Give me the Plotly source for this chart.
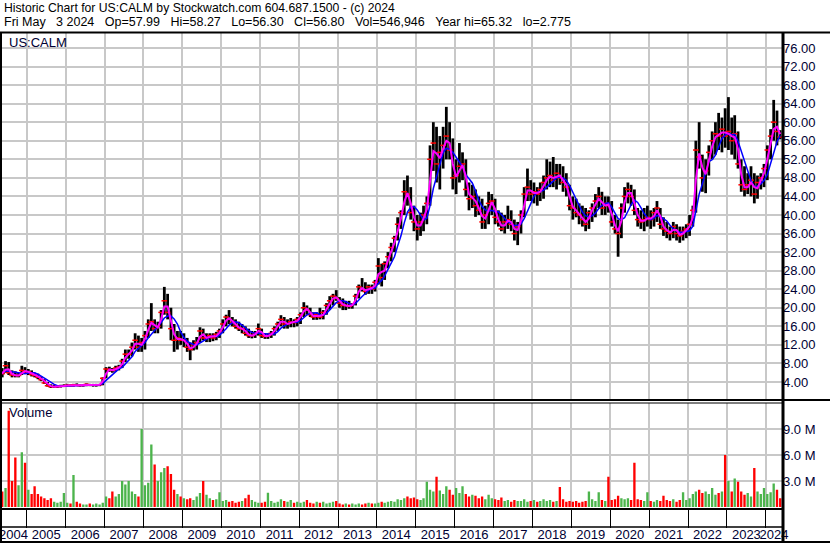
import pandas as pd
import plotly.graph_objects as go

# ---------------- data (monthly) ----------------
first_month = "2004-04-01"

high = [
    7.5, 7.0, 8.5, 8.3, 6.5, 6.3, 6.0, 7.5, 7.2,                        # 2004 Apr-Dec
    6.8, 6.5, 6.0, 5.8, 5.2, 4.6, 4.0, 3.5, 3.4, 3.3, 3.4, 3.5,         # 2005
    3.6, 3.5, 3.6, 3.7, 3.5, 3.5, 3.7, 3.6, 3.6, 3.6, 3.6, 5.0,         # 2006
    7.2, 7.3, 7.0, 7.5, 7.7, 9.0, 11.0, 11.0, 12.5, 14.5, 14.0, 13.5,   # 2007
    15.0, 17.5, 21.0, 17.5, 17.0, 19.5, 24.5, 23.0, 20.0, 16.5, 15.0, 15.0,  # 2008
    14.5, 13.5, 12.5, 13.0, 13.7, 15.8, 15.5, 14.5, 14.5, 14.5, 14.8, 15.5,  # 2009
    17.5, 18.5, 19.5, 18.0, 17.5, 17.0, 16.5, 16.0, 15.5, 15.0, 15.0, 16.6,  # 2010
    15.5, 14.5, 14.5, 15.0, 16.0, 17.0, 18.4, 18.0, 17.5, 17.8, 17.5, 18.0,  # 2011
    19.0, 21.2, 20.5, 20.0, 19.0, 19.0, 20.0, 19.5, 21.0, 22.5, 23.0, 23.8,  # 2012
    22.3, 22.0, 21.5, 21.5, 21.0, 23.0, 25.0, 26.4, 25.5, 25.0, 25.0, 26.0,  # 2013
    30.7, 29.5, 30.0, 32.0, 34.0, 35.5, 39.5, 41.0, 47.5, 48.5, 46.0, 42.0,  # 2014
    40.0, 40.5, 42.0, 44.0, 55.0, 60.0, 59.0, 57.0, 59.0, 63.3, 60.0, 56.5,  # 2015
    52.0, 55.5, 53.5, 52.0, 47.0, 46.5, 45.5, 44.0, 43.5, 42.0, 45.0, 44.5,  # 2016
    43.5, 41.0, 40.5, 40.0, 42.0, 41.0, 39.0, 38.5, 41.0, 46.0, 50.0, 47.5,  # 2017
    47.0, 46.0, 47.0, 48.5, 52.0, 51.5, 52.5, 51.0, 51.0, 50.5, 49.0, 46.5,  # 2018
    44.0, 43.5, 42.5, 42.0, 41.5, 41.0, 42.5, 44.5, 46.0, 45.0, 44.0, 44.0,  # 2019
    43.0, 40.0, 39.0, 42.5, 46.0, 47.0, 46.5, 45.5, 41.5, 41.0, 41.5, 42.0,  # 2020
    41.0, 41.5, 43.0, 41.5, 39.5, 38.5, 37.5, 38.5, 38.0, 37.5, 37.5, 38.0,  # 2021
    40.0, 42.0, 56.0, 60.0, 53.0, 52.0, 55.0, 58.0, 60.0, 62.0, 61.0, 63.0,  # 2022
    65.4, 61.0, 61.5, 58.0, 52.0, 50.5, 49.0, 50.5, 49.0, 48.5, 49.0, 51.0,  # 2023
    55.0, 58.5, 64.8, 62.5, 58.27,                                       # 2024 Jan-May
]

low = [
    5.5, 5.0, 6.0, 5.5, 5.0, 5.0, 5.0, 5.5, 5.8,
    5.5, 5.2, 5.0, 4.6, 4.2, 3.6, 3.0, 2.7, 2.7, 2.7, 2.8, 2.9,
    3.0, 3.0, 3.0, 3.1, 3.0, 3.0, 3.1, 3.1, 3.0, 3.0, 3.1, 3.3,
    4.8, 6.2, 6.0, 6.2, 6.5, 7.0, 8.3, 9.0, 9.5, 11.0, 10.5, 10.5,
    11.0, 13.5, 15.0, 14.5, 14.5, 15.5, 18.5, 17.5, 13.0, 10.5, 11.0, 12.0,
    11.5, 10.5, 8.7, 10.8, 11.0, 12.5, 13.0, 12.6, 12.6, 12.8, 13.0, 13.5,
    14.5, 16.0, 16.5, 16.0, 15.5, 15.0, 14.5, 14.0, 13.5, 13.4, 13.5, 14.0,
    13.5, 13.3, 13.3, 13.5, 14.0, 15.0, 16.0, 15.5, 15.5, 15.8, 15.8, 16.0,
    16.5, 18.0, 18.5, 18.0, 17.4, 17.4, 17.5, 17.5, 18.5, 19.5, 20.5, 21.5,
    20.0, 19.5, 19.5, 19.8, 19.8, 20.5, 22.0, 23.5, 22.8, 23.0, 23.0, 23.5,
    25.0, 24.6, 26.0, 28.5, 30.0, 32.0, 34.5, 37.0, 40.0, 42.0, 39.0, 36.5,
    34.5, 35.5, 36.5, 38.0, 42.0, 49.5, 47.0, 45.5, 50.0, 52.0, 52.0, 45.5,
    44.5, 47.0, 47.5, 44.0, 41.0, 41.5, 39.6, 40.0, 37.0, 37.0, 38.0, 40.0,
    38.0, 37.5, 36.5, 36.0, 37.0, 36.5, 34.5, 33.5, 36.0, 39.5, 43.0, 43.0,
    42.5, 42.0, 43.0, 43.5, 45.5, 46.0, 46.0, 45.5, 46.5, 45.0, 44.0, 41.0,
    39.0, 39.5, 38.0, 37.5, 36.5, 37.0, 38.5, 39.5, 41.5, 40.0, 40.0, 40.5,
    37.5, 36.0, 31.0, 35.0, 40.5, 42.5, 42.0, 40.0, 37.5, 37.0, 36.5, 37.5,
    37.0, 37.5, 38.5, 37.0, 35.5, 35.0, 34.5, 35.0, 34.5, 34.0, 34.5, 35.0,
    35.5, 37.5, 40.5, 50.0, 45.0, 44.7, 48.5, 52.0, 53.0, 54.0, 53.5, 54.5,
    54.0, 53.0, 52.0, 50.0, 45.0, 44.0, 44.5, 44.0, 42.5, 43.5, 45.5, 46.0,
    47.5, 52.0, 56.0, 55.0, 56.30,
]

close = [
    6.0, 5.8, 7.5, 6.0, 5.5, 5.4, 5.4, 6.5, 6.2,
    6.2, 5.6, 5.4, 5.0, 4.5, 3.8, 3.2, 3.0, 3.0, 3.0, 3.1, 3.2,
    3.3, 3.2, 3.4, 3.3, 3.2, 3.3, 3.5, 3.3, 3.3, 3.4, 3.4, 4.8,
    6.8, 6.6, 6.5, 7.0, 7.2, 8.5, 10.0, 10.0, 11.5, 13.0, 11.5, 12.5,
    14.0, 16.5, 17.0, 15.5, 16.0, 19.0, 21.5, 19.0, 15.5, 13.0, 13.5, 13.0,
    13.0, 11.5, 11.0, 12.0, 12.5, 15.0, 13.5, 13.5, 14.0, 13.5, 14.3, 15.0,
    16.5, 18.0, 17.5, 16.8, 16.0, 15.5, 15.5, 14.5, 14.0, 14.0, 14.5, 15.5,
    14.0, 13.8, 14.0, 14.5, 15.5, 16.5, 17.5, 16.5, 16.5, 17.0, 16.8, 17.5,
    18.5, 20.0, 19.5, 18.5, 18.0, 18.5, 18.0, 19.0, 20.5, 21.5, 22.5, 22.0,
    21.0, 20.5, 20.5, 20.3, 20.8, 22.5, 24.5, 24.0, 23.5, 24.5, 24.0, 25.5,
    29.0, 26.5, 29.5, 31.0, 33.0, 35.0, 38.0, 40.5, 45.0, 44.5, 40.5, 38.5,
    37.0, 38.5, 40.0, 42.5, 52.0, 55.5, 51.0, 53.5, 55.0, 57.0, 54.0, 48.0,
    48.5, 50.5, 51.0, 45.5, 43.5, 44.0, 42.0, 41.0, 38.5, 40.0, 42.5, 43.0,
    39.5, 38.5, 37.0, 38.5, 39.0, 38.0, 36.0, 37.5, 40.0, 44.5, 46.0, 44.5,
    45.0, 44.5, 45.5, 47.0, 48.0, 48.5, 47.5, 49.0, 48.0, 47.0, 46.0, 42.0,
    41.5, 40.5, 40.0, 39.0, 38.0, 40.5, 41.5, 43.0, 44.0, 41.5, 42.5, 42.0,
    38.5, 37.0, 36.0, 41.5, 44.0, 45.5, 44.0, 41.0, 39.0, 38.5, 39.0, 39.5,
    39.0, 40.5, 41.5, 38.0, 37.0, 36.5, 36.0, 37.5, 36.0, 35.5, 36.5, 37.0,
    38.0, 41.0, 54.0, 52.5, 48.0, 49.5, 53.5, 56.0, 57.5, 57.0, 58.5, 57.0,
    58.0, 56.0, 57.5, 51.0, 46.5, 45.5, 46.5, 47.5, 44.5, 47.0, 48.0, 50.0,
    54.0, 57.0, 60.0, 57.99, 56.80,
]

volume_m = [
    2.6, 1.8, 2.2, 11.1, 3.0, 5.7, 2.5, 6.3, 5.1,
    2.0, 1.5, 2.4, 1.5, 1.2, 1.0, 0.8, 1.0, 0.6, 0.5, 0.6, 1.6,
    0.5, 0.4, 3.7, 0.6, 0.4, 0.3, 0.3, 0.4, 0.3, 0.4, 0.3, 0.5,
    1.2, 1.0, 1.8, 1.2, 1.5, 3.0, 2.6, 3.0, 1.8, 1.5, 1.2, 9.0,
    2.5, 2.8, 7.2, 4.9, 3.0, 4.0, 4.5, 4.7, 3.8, 2.0, 1.5, 1.2,
    1.0, 0.9, 1.0, 0.8, 1.2, 1.6, 3.0, 1.4, 1.0, 0.8, 0.9, 1.7,
    0.7, 0.8, 0.6, 0.7, 0.5, 0.6, 0.7, 1.0, 1.4, 0.8, 0.6, 0.5,
    0.5, 0.6, 1.65, 0.7, 0.5, 0.6, 0.9, 0.7, 0.6, 0.8, 0.5, 0.6,
    0.5, 0.6, 0.8, 0.5, 0.4, 0.6, 0.5, 0.6, 0.4, 0.5, 0.6, 0.7,
    0.4, 0.3, 0.4, 0.3, 0.4, 0.3, 0.4, 0.3, 0.4, 0.5, 0.4, 0.4,
    0.5, 0.6, 0.5, 0.6, 0.7, 0.6, 0.9, 0.8, 1.0, 1.2, 1.0, 1.1,
    0.9, 0.8, 1.0, 2.9, 2.0, 1.8, 3.5, 1.9, 1.5, 2.4, 2.0, 1.4,
    2.2, 1.6, 2.4, 1.5, 1.2, 1.4, 1.3, 1.0, 1.2, 0.9, 1.4, 1.0,
    0.9, 0.8, 1.1, 0.7, 0.8, 0.6, 0.8, 0.7, 0.7, 0.9, 0.6, 0.7,
    0.8, 0.6, 0.7, 0.9, 0.7, 0.8, 0.6, 0.7, 2.3, 0.9, 0.6, 0.7,
    0.6, 0.7, 0.5, 0.6, 0.7, 1.8, 0.9, 0.7, 1.7, 0.8, 0.7, 3.5,
    0.8, 0.9, 1.3, 1.0, 0.9, 1.0, 0.8, 5.1, 0.9, 0.8, 0.7, 1.7,
    0.7, 0.6, 0.8, 0.7, 1.3, 0.8, 0.7, 0.9, 0.6, 0.8, 1.7, 0.8,
    1.0, 1.5, 1.8, 2.0, 1.6, 1.8, 1.5, 2.2, 1.4, 1.6, 1.8, 6.0,
    3.0, 1.8, 3.3, 2.9, 1.8, 1.4, 1.6, 1.2, 4.5, 1.8, 1.5, 2.2,
    1.5, 1.7, 2.7, 2.0, 1.0,
]

years = [str(y) for y in range(2004, 2025)]
price_ticks = list(range(4, 80, 4))
volume_ticks = [3, 6, 9]
volume_tick_text = ["3.0 M", "6.0 M", "9.0 M"]

header_1 = "Historic Chart for US:CALM by Stockwatch.com 604.687.1500 - (c) 2024"
header_2 = ("Fri May  3 2024  Op=57.99  Hi=58.27  Lo=56.30  Cl=56.80  "
            "Vol=546,946  Year hi=65.32  lo=2.775")

# ---------------- derived ----------------
W, H = 830, 543
DAY = 86400000
n = len(close)
dates = pd.date_range(first_month, periods=n, freq="MS") + pd.Timedelta(days=14)
cs = pd.Series(close)
ma_fast = cs.rolling(2, min_periods=1).mean()
ma_slow = cs.rolling(5, min_periods=1).mean()
prev = cs.shift(1).fillna(cs.iloc[0])
GREEN, RED = "#4cb44c", "#ff0000"
vol_colors = [GREEN if c >= p else RED for c, p in zip(close, prev)]

X0, X1 = pd.Timestamp("2004-04-24"), pd.Timestamp("2024-06-01")
boundaries = [f"{y}-01-01" for y in years[1:]]
centers = []
for y in years:
    a = max(pd.Timestamp(f"{y}-01-01"), X0)
    b = min(pd.Timestamp(f"{int(y) + 1}-01-01"), X1)
    centers.append((a + (b - a) / 2).strftime("%Y-%m-%d %H:%M"))


def px(p):
    return p / W


def py(p):
    return (H - p) / H


GRID = "#c8c8c8"
TXT = "#000033"
FONT = "Liberation Sans, Arial, sans-serif"

fig = go.Figure()
fig.add_trace(go.Bar(x=dates, y=[h - l for h, l in zip(high, low)], base=low,
                     width=26 * DAY, marker=dict(color="black", line=dict(width=0)),
                     xaxis="x", yaxis="y", hoverinfo="skip"))
fig.add_trace(go.Scatter(x=dates, y=close, mode="markers",
                         marker=dict(symbol="line-ew", size=4,
                                     line=dict(color="red", width=1.5)),
                         xaxis="x", yaxis="y"))
fig.add_trace(go.Scatter(x=dates, y=ma_slow, mode="lines",
                         line=dict(color="#0000ff", width=1.5), xaxis="x", yaxis="y"))
fig.add_trace(go.Scatter(x=dates, y=ma_fast, mode="lines",
                         line=dict(color="#ff00ff", width=2), xaxis="x", yaxis="y"))
fig.add_trace(go.Bar(x=dates, y=volume_m, width=22 * DAY,
                     marker=dict(color=vol_colors, line=dict(width=0)),
                     xaxis="x2", yaxis="y2"))

xdom = [0, px(782)]
fig.update_layout(
    width=W, height=H, margin=dict(l=0, r=0, t=0, b=0, autoexpand=False),
    paper_bgcolor="white", plot_bgcolor="white", showlegend=False,
    font=dict(family=FONT, size=13, color=TXT),
    xaxis=dict(domain=xdom, anchor="y", type="date", range=[X0, X1],
               tickmode="array", tickvals=boundaries, showticklabels=False,
               ticks="", showgrid=True, gridcolor=GRID, gridwidth=2,
               zeroline=False, showline=False, automargin=False),
    xaxis2=dict(domain=xdom, anchor="y2", type="date", range=[X0, X1], matches="x",
                tickmode="array", tickvals=centers, ticktext=years, tickangle=0,
                ticks="outside", ticklen=15, tickcolor="rgba(0,0,0,0)",
                ticklabeloverflow="allow",
                showgrid=False, zeroline=False, showline=False, automargin=False,
                tickfont=dict(family=FONT, size=13, color=TXT),
                minor=dict(tickmode="array", tickvals=boundaries, ticks="outside",
                           ticklen=20, tickcolor="black", tickwidth=1,
                           showgrid=True, gridcolor=GRID, gridwidth=2)),
    yaxis=dict(domain=[py(400), py(33)], anchor="x", side="right",
               range=[0.12, 79.22], tickmode="array", tickvals=price_ticks,
               ticktext=[f"{v:.2f}" for v in price_ticks], ticks="",
               showgrid=True, gridcolor=GRID, gridwidth=2, zeroline=False,
               automargin=False, tickfont=dict(family=FONT, size=13, color=TXT)),
    yaxis2=dict(domain=[py(507), py(402.5)], anchor="x2", side="right",
                range=[0, 12.05], tickmode="array", tickvals=volume_ticks,
                ticktext=volume_tick_text, ticks="", showgrid=True,
                gridcolor=GRID, gridwidth=2, zeroline=False, automargin=False,
                tickfont=dict(family=FONT, size=13, color=TXT)),
)

lines = [
    (0, 32.5, W, 32.5, 2),     # header bottom
    (1, 33, 1, H, 2),          # left border
    (783, 33, 783, H, 3),      # right axis line
    (0, 400, W, 400, 2),       # price / volume separator
    (0, 403, 782, 403, 1),
    (0, 509, 782, 509, 2),     # volume bottom
    (0, 527, 782, 527, 1.5),   # label row top
    (0, 542, W, 542, 2),       # bottom
]
for x0, y0, x1, y1, w in lines:
    fig.add_shape(type="line", xref="paper", yref="paper",
                  x0=px(x0), y0=py(y0), x1=px(x1), y1=py(y1),
                  line=dict(color="black", width=w))

NB = "\u00a0"
notes = [
    (3, 8.0, header_1, "black", 12.2),
    (3, 22.0, header_2.replace("  ", NB * 3).replace(" ", NB), "black", 12.5),
    (8, 42, "US:CALM", TXT, 13),
    (8, 413, "Volume", TXT, 13),
]
for x, y, t, c, s in notes:
    fig.add_annotation(x=px(x), y=py(y), xref="paper", yref="paper", text=t,
                       showarrow=False, xanchor="left", yanchor="middle",
                       borderpad=0,
                       font=dict(family=FONT, size=s, color=c))

fig.write_html("out.html", config={"displayModeBar": False},
               post_script="document.body.style.margin='0';"
                           "document.body.style.overflow='hidden';")
